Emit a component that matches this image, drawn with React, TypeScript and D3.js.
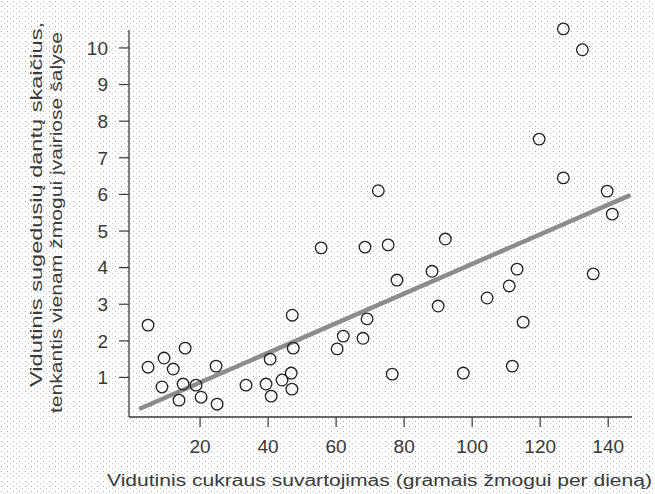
import React from 'react';
import * as d3 from 'd3';

// sugar intake (g/person/day) vs decayed teeth per person, by country
const sugarX = [
  4.7, 15.6, 9.4, 4.7, 12.1, 24.7, 8.8, 15, 18.8, 13.8, 20.3, 25, 33.5, 39.4, 40.9, 40.6,
  44.1, 46.8, 47, 47.4, 47.1, 72.4, 55.6, 68.5, 75.3, 92.1, 88.2, 77.9, 90, 69.1, 62.1,
  67.9, 60.3, 76.5, 97.4, 126.8, 132.4, 119.7, 126.8, 139.7, 141.2, 113.2, 135.6, 110.9,
  104.4, 115, 111.8,
];
const teethY = [
  2.43, 1.8, 1.53, 1.28, 1.23, 1.31, 0.74, 0.82, 0.79, 0.38, 0.46, 0.27, 0.79, 0.82, 0.49,
  1.5, 0.93, 1.12, 0.68, 1.8, 2.7, 6.1, 4.54, 4.56, 4.62, 4.78, 3.9, 3.66, 2.95, 2.6, 2.13,
  2.07, 1.78, 1.09, 1.12, 10.52, 9.95, 7.51, 6.45, 6.09, 5.46, 3.96, 3.83, 3.5, 3.17, 2.51,
  1.31,
];
const trendX = [2.6, 146];
const trendY = [0.16, 5.96];
const xTicks = [20, 40, 60, 80, 100, 120, 140];
const yTicks = [1, 2, 3, 4, 5, 6, 7, 8, 9, 10];

const xTitle = 'Vidutinis cukraus suvartojimas (gramais žmogui per dieną)';
const yTitle1 = 'Vidutinis sugedusių dantų skaičius,';
const yTitle2 = 'tenkantis vienam žmogui įvairiose šalyse';

export default function App() {
  const width = 655;
  const height = 494;
  const left = 129;
  const right = 632;
  const top = 30;
  const bottom = 417;

  const x = d3.scaleLinear().domain([-0.9, 147]).range([left, right]);
  const y = d3.scaleLinear().domain([-0.08, 10.49]).range([bottom, top]);

  const line = d3.line<number>()
    .x((d) => x(trendX[d]))
    .y((d) => y(trendY[d]));

  const font = "'Liberation Sans', Arial, sans-serif";
  const ink = '#3a3a3a';

  return (
    <svg
      width={width}
      height={height}
      style={{ position: 'absolute', left: 0, top: 0, background: '#fff' }}
      fontFamily={font}
    >
      <defs>
        <pattern id="dots" width={6} height={5} patternUnits="userSpaceOnUse">
          <rect x={1} y={1} width={1} height={1} fill="#aaa" />
          <rect x={4} y={3} width={1} height={1} fill="#c4c4c4" />
        </pattern>
      </defs>
      <rect width={width} height={height} fill="url(#dots)" />

      {/* axes */}
      <line x1={left} x2={left} y1={top} y2={bottom} stroke={ink} strokeWidth={1.3} />
      <line x1={left} x2={right} y1={bottom} y2={bottom} stroke={ink} strokeWidth={1.3} />

      {yTicks.map((t) => (
        <g key={'y' + t}>
          <line x1={left - 10} x2={left} y1={y(t)} y2={y(t)} stroke={ink} strokeWidth={1.2} />
          <text x={108} y={y(t)} dy="0.36em" textAnchor="end" fontSize={19} fill={ink}>
            {t}
          </text>
        </g>
      ))}

      {xTicks.map((t) => (
        <g key={'x' + t}>
          <line x1={x(t)} x2={x(t)} y1={bottom} y2={bottom + 10} stroke={ink} strokeWidth={1.2} />
          <text x={x(t)} y={453} textAnchor="middle" fontSize={19} fill={ink}>
            {t}
          </text>
        </g>
      ))}

      {/* trend line */}
      <path d={line([0, 1]) || ''} stroke="#8c8c8c" strokeWidth={4.5} fill="none" strokeLinecap="round" />

      {/* points */}
      {sugarX.map((v, i) => (
        <circle
          key={i}
          cx={x(v)}
          cy={y(teethY[i])}
          r={5.8}
          fill="none"
          stroke="#222"
          strokeWidth={1.3}
        />
      ))}

      {/* titles */}
      <text x={107} y={486} fontSize={16} fill={ink} textLength={545} lengthAdjust="spacingAndGlyphs">
        {xTitle}
      </text>
      <text
        transform="translate(42,387) rotate(-90)"
        fontSize={17}
        fill={ink}
        textLength={365}
        lengthAdjust="spacingAndGlyphs"
      >
        {yTitle1}
      </text>
      <text
        transform="translate(62,413) rotate(-90)"
        fontSize={17}
        fill={ink}
        textLength={381}
        lengthAdjust="spacingAndGlyphs"
      >
        {yTitle2}
      </text>
    </svg>
  );
}
